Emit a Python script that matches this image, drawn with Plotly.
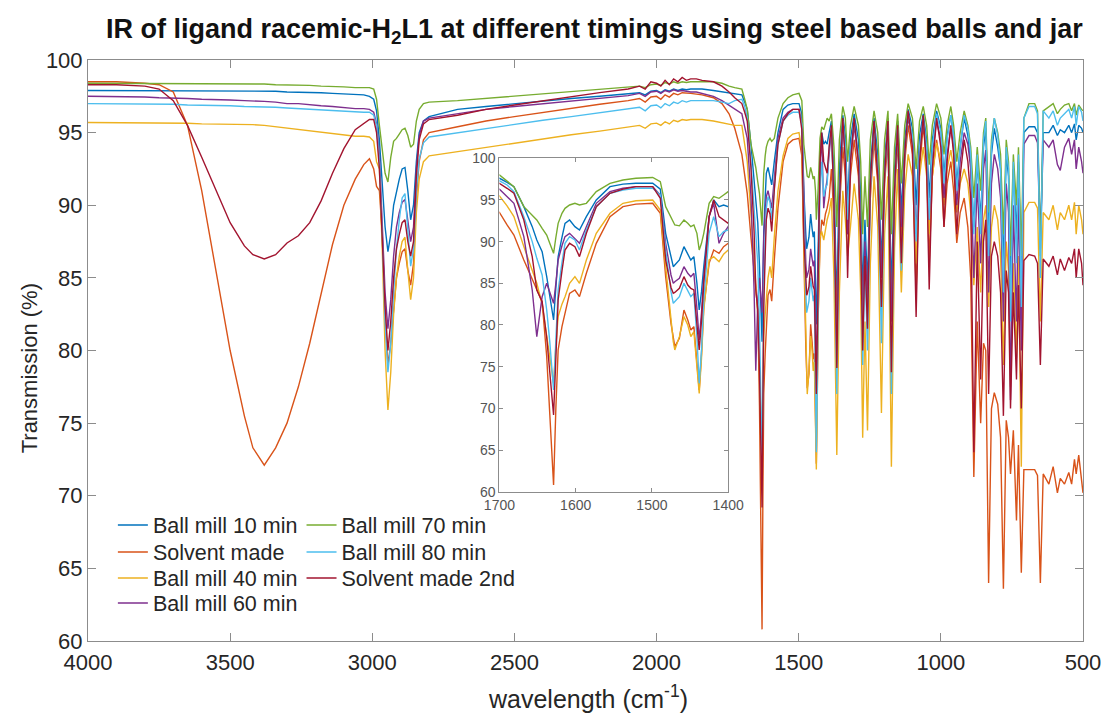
import plotly.graph_objects as go

# ---------------- data (wavenumber grid, cm^-1) ----------------
WAVENUMBER = [
    4000, 3900, 3800, 3750, 3700, 3650, 3600, 3550, 3500, 3450, 3420, 3380, 3340, 3300, 3260, 3220, 3180, 3140, 3100, 3060,
    3030, 3010, 2995, 2985, 2975, 2965, 2955, 2945, 2935, 2925, 2915, 2905, 2895, 2885, 2875, 2865, 2855, 2845, 2835, 2820, 2800,
    2700, 2600, 2500, 2400, 2300, 2200, 2100, 2060, 2040, 2020, 2000, 1985, 1970, 1955, 1940, 1925, 1910, 1895, 1880, 1860, 1840, 1800, 1770, 1745, 1725,
    1700, 1690, 1681, 1668, 1657, 1651, 1644, 1638, 1634, 1629,
    1626, 1623, 1618, 1614, 1608, 1601, 1595, 1586, 1573, 1555,
    1538, 1521, 1499, 1489, 1482, 1475, 1472, 1470, 1464, 1458,
    1453, 1449, 1445, 1441, 1438, 1435, 1432, 1425, 1419, 1412,
    1406, 1400,
    1393, 1385, 1376, 1366, 1357, 1345, 1336, 1328, 1318, 1305,
    1290, 1282, 1275, 1267, 1258, 1248, 1235, 1222, 1209, 1198,
    1186, 1174, 1163, 1152, 1139, 1127, 1115, 1100, 1087, 1075,
    1062, 1050, 1041, 1030, 1015, 1000, 989, 978, 965, 955,
    944, 932, 918, 905, 895, 884, 872, 860, 850, 842,
    832, 822, 812, 800, 790, 780, 770, 762, 755, 745,
    734, 727, 717, 708, 690, 670, 660, 650, 640, 620,
    605, 590, 580, 565, 550, 540, 530, 524, 515, 505, 500,
]

BALL_MILL_10 = [
    97.9, 97.9, 97.9, 97.9, 97.9, 97.9, 97.9, 97.9, 97.9, 97.9, 97.9, 97.9, 97.85, 97.8, 97.8, 97.8, 97.75, 97.7, 97.65, 97.6,
    97.6, 97.5, 97.3, 96.5, 94.5, 91.5, 88.5, 86.8, 88.0, 90.0, 91.0, 91.8, 92.5, 92.6, 91.0, 89.0, 90.0, 93.0, 95.0, 95.8, 96.1,
    96.6, 96.8, 97.0, 97.2, 97.35, 97.5, 97.65, 97.75, 97.6, 97.85, 97.9, 97.75, 97.95, 97.85, 98.0, 97.9, 98.0, 97.95, 98.0, 98.0, 98.0, 97.9, 97.8, 97.7, 97.65,
    97.6, 97.1, 96.6, 94.2, 91.8, 90.2, 88.8, 85.8, 83.5, 80.6,
    84.5, 88.2, 90.5, 92.2, 92.6, 91.8, 91.4, 93.0, 95.0, 96.6,
    96.9, 97.0, 97.0, 96.3, 91.0, 88.0, 87.0, 87.2, 87.8, 89.4,
    88.4, 87.8, 88.2, 85.0, 81.8, 84.0, 87.0, 93.0, 95.0, 94.2,
    94.4, 94.2,
    95.0, 95.8, 92.0, 83.0, 92.5, 96.2, 94.8, 90.0, 94.5, 96.3,
    94.5, 90.5, 84.0, 89.0, 84.5, 92.5, 96.0, 93.5, 86.0, 93.0,
    96.0, 84.0, 92.5, 95.8, 89.5, 94.5, 96.6, 95.3, 90.0, 94.8,
    96.3, 94.5, 90.5, 94.5, 96.5, 95.3, 92.0, 94.8, 96.2, 94.8,
    91.5, 94.0, 96.0, 94.8, 93.0, 88.5, 93.0, 89.0, 94.0, 95.3,
    88.0, 93.5, 95.3, 94.0, 92.5, 86.0, 93.5, 92.0, 85.0, 92.5,
    88.0, 93.0, 85.0, 95.0, 95.4, 95.4, 95.0, 87.5, 95.0, 95.0,
    95.5, 94.8, 95.2, 95.0, 95.5, 95.0, 95.6, 94.5, 95.5, 95.3, 95.0,
]

SOLVENT_MADE = [
    98.5, 98.5, 98.4, 98.3, 97.8, 95.5, 91.0, 85.5, 80.0, 75.5, 73.3, 72.1, 73.3, 75.0, 77.5, 80.5, 84.0, 87.3, 90.0, 91.8,
    92.8, 93.2, 92.5, 91.3, 91.0, 88.0, 82.5, 79.0, 80.5, 83.0, 85.0, 86.0, 86.8, 87.0, 85.5, 84.5, 86.0, 90.5, 93.0, 94.5, 95.0,
    95.4, 95.8, 96.1, 96.4, 96.7, 96.95, 97.2, 97.35, 97.1, 97.45, 97.5, 97.3, 97.6, 97.45, 97.7, 97.6, 97.75, 97.7, 97.7, 97.65, 97.6, 97.4, 97.0, 96.3, 95.3,
    93.5, 92.0, 90.8, 87.8, 85.5, 84.3, 82.8, 76.2, 69.0, 60.8,
    70.0, 77.0, 79.8, 81.4, 83.8, 84.2, 83.4, 86.2, 89.8, 93.0,
    94.2, 94.5, 94.6, 93.4, 85.8, 80.2, 78.5, 77.4, 78.4, 81.8,
    80.6, 79.4, 79.8, 75.5, 72.2, 76.5, 82.2, 87.4, 89.0, 88.6,
    89.4, 89.8,
    90.5, 92.5, 89.0, 82.0, 89.5, 94.0, 92.0, 88.0, 92.0, 94.5,
    92.0, 87.5, 82.0, 87.0, 83.0, 90.5, 94.5, 91.5, 85.0, 91.5,
    94.5, 82.0, 90.5, 94.5, 87.5, 93.0, 95.5, 93.5, 84.0, 92.5,
    95.5, 93.0, 86.0, 92.0, 94.5, 92.5, 88.5, 91.5, 93.0, 91.0,
    87.4, 89.5, 90.5, 88.5, 85.0, 71.3, 82.0, 75.0, 80.5, 80.0,
    64.0, 76.0, 77.1, 76.3, 74.0, 63.6, 75.2, 74.0, 71.5, 74.5,
    68.3, 73.5, 64.7, 71.8, 71.8, 71.8, 71.4, 64.0, 71.5, 70.8,
    72.0, 70.2, 71.2, 70.8, 71.6, 70.8, 72.5, 71.5, 72.8, 71.0, 70.2,
]

BALL_MILL_40 = [
    95.7, 95.7, 95.7, 95.7, 95.7, 95.65, 95.6, 95.6, 95.6, 95.6, 95.55, 95.5, 95.4, 95.3, 95.2, 95.1, 95.0, 94.9, 94.8, 94.75,
    94.75, 94.7, 94.4, 93.0, 92.5, 87.0, 80.0, 75.9, 78.5, 82.5, 85.0, 86.5, 87.5, 87.8, 85.5, 83.5, 85.0, 89.5, 91.8, 93.0, 93.4,
    93.7, 94.0, 94.3, 94.6, 94.85, 95.1, 95.35, 95.5, 95.3, 95.6, 95.65, 95.5, 95.75, 95.6, 95.85, 95.75, 95.9, 95.85, 95.9, 95.9, 95.9, 95.8, 95.7, 95.6, 95.5,
    95.5, 94.3, 93.0, 89.4, 86.5, 85.0, 82.5, 78.6, 76.0, 73.0,
    77.5, 81.0, 82.5, 83.4, 85.0, 85.8, 85.0, 87.8, 91.0, 93.4,
    94.6, 94.9, 95.0, 93.8, 87.0, 80.5, 78.0, 77.0, 78.6, 81.0,
    80.0, 78.6, 79.2, 75.0, 71.8, 76.0, 81.8, 87.8, 88.2, 87.6,
    88.5, 89.0,
    89.5, 90.5, 85.0, 72.8, 84.0, 91.0, 89.0, 86.5, 88.5, 91.5,
    89.0, 84.0, 74.0, 82.0, 74.5, 86.0, 92.0, 88.5, 75.7, 88.0,
    92.0, 72.0, 87.0, 92.5, 84.0, 91.0, 93.5, 92.0, 86.0, 92.0,
    94.0, 92.0, 88.0, 92.0, 94.3, 93.0, 90.0, 92.5, 93.8, 92.5,
    89.5, 91.5, 92.5, 91.5, 89.5, 84.5, 88.5, 84.0, 89.0, 90.0,
    83.0, 88.5, 90.0, 89.0, 86.5, 79.0, 87.5, 85.5, 77.5, 86.0,
    79.5, 86.5, 72.0, 89.5, 90.2, 90.2, 89.8, 82.0, 89.5, 89.0,
    90.0, 88.3, 89.5, 89.0, 90.0, 89.0, 90.2, 88.0, 90.0, 89.0, 88.0,
]

BALL_MILL_60 = [
    97.5, 97.5, 97.45, 97.4, 97.4, 97.35, 97.3, 97.3, 97.25, 97.2, 97.2, 97.15, 97.1, 97.0, 97.0, 96.9, 96.85, 96.8, 96.7, 96.65,
    96.65, 96.6, 96.4, 95.6, 93.5, 89.0, 84.0, 81.5, 83.5, 86.5, 88.5, 89.5, 90.2, 90.4, 89.0, 87.5, 88.5, 92.5, 94.8, 95.8, 96.0,
    96.3, 96.6, 96.8, 97.0, 97.2, 97.4, 97.55, 97.7, 97.5, 97.8, 97.85, 97.7, 97.9, 97.8, 97.95, 97.85, 97.9, 97.85, 97.8, 97.8, 97.7, 97.5, 97.2, 96.9, 96.6,
    96.3, 95.4, 94.6, 90.6, 84.2, 78.6, 83.4, 85.0, 84.0, 82.6,
    85.0, 87.8, 89.5, 90.6, 91.0, 90.4, 89.8, 91.8, 94.6, 96.0,
    96.4, 96.6, 96.6, 95.6, 89.8, 86.0, 85.0, 85.2, 85.6, 87.0,
    86.2, 85.8, 86.2, 82.0, 78.2, 81.5, 85.8, 93.0, 94.6, 89.8,
    91.0, 91.8,
    93.5, 95.2, 90.5, 80.0, 90.5, 95.5, 93.5, 88.0, 93.0, 95.5,
    93.0, 88.5, 82.0, 87.5, 83.0, 91.5, 95.3, 92.5, 85.0, 92.5,
    95.5, 82.0, 91.5, 95.2, 88.5, 94.0, 96.0, 94.5, 88.0, 94.0,
    95.8, 93.5, 89.0, 93.5, 95.8, 94.5, 90.5, 93.5, 95.3, 94.0,
    90.0, 93.0, 95.0, 94.2, 92.5, 85.0, 91.5, 86.0, 92.5, 93.8,
    84.0, 91.5, 93.5, 92.5, 90.5, 82.0, 91.5, 89.5, 76.6, 90.0,
    82.0, 90.5, 80.0, 94.2, 94.8, 94.8, 94.3, 87.0, 94.5, 94.0,
    94.5, 92.8, 92.4, 94.0, 94.6, 93.5, 94.5, 92.5, 94.0, 93.0, 92.2,
]

BALL_MILL_70 = [
    98.4, 98.4, 98.4, 98.4, 98.4, 98.4, 98.4, 98.4, 98.4, 98.4, 98.4, 98.35, 98.3, 98.3, 98.3, 98.25, 98.2, 98.2, 98.15, 98.1,
    98.1, 98.1, 98.0, 97.3, 95.5, 93.8, 92.2, 91.6, 93.3, 94.4, 94.6, 94.9, 95.2, 95.3, 94.8, 94.0, 94.2, 95.8, 96.6, 97.0, 97.1,
    97.2, 97.35, 97.5, 97.65, 97.8, 97.95, 98.1, 98.2, 98.1, 98.3, 98.35, 98.25, 98.45, 98.35, 98.5, 98.4, 98.5, 98.45, 98.5, 98.5, 98.5, 98.5, 98.4, 98.2, 98.1,
    98.0, 97.3, 96.6, 94.2, 93.2, 92.6, 91.6, 90.8, 89.8, 88.6,
    90.5, 92.2, 93.4, 94.0, 94.4, 94.6, 94.4, 94.6, 96.0, 97.0,
    97.4, 97.6, 97.7, 97.2, 94.2, 92.8, 92.4, 92.0, 91.9, 92.6,
    92.2, 91.8, 92.0, 91.0, 89.0, 89.8, 91.0, 94.6, 95.4, 95.2,
    95.6, 96.0,
    95.8, 96.3, 94.0, 88.5, 94.5, 96.8, 96.0, 93.0, 95.5, 96.8,
    95.5, 93.0, 88.0, 92.0, 88.5, 94.5, 96.5, 95.0, 89.0, 94.5,
    96.5, 88.0, 94.0, 96.3, 91.5, 95.5, 97.0, 96.0, 92.5, 95.8,
    96.8, 95.5, 92.8, 95.5, 97.0, 96.0, 93.5, 95.5, 96.8, 95.5,
    93.0, 95.0, 96.5, 95.5, 94.0, 90.5, 94.0, 91.0, 95.0, 96.0,
    89.5, 94.5, 96.0, 95.0, 93.5, 88.0, 94.5, 93.0, 86.5, 93.5,
    90.0, 94.0, 86.5, 96.0, 97.0, 97.0, 96.5, 86.5, 96.5, 96.8,
    97.0, 96.3, 96.6, 96.9, 97.0, 96.5, 97.0, 96.2, 96.9, 96.6, 96.5,
]

BALL_MILL_80 = [
    97.0, 97.0, 97.0, 97.0, 96.95, 96.9, 96.9, 96.9, 96.85, 96.8, 96.8, 96.8, 96.75, 96.7, 96.65, 96.6, 96.55, 96.5, 96.45, 96.4,
    96.4, 96.4, 96.2, 95.5, 93.0, 88.0, 82.0, 78.5, 80.5, 84.0, 87.0, 89.0, 90.5, 90.8, 88.0, 85.8, 87.0, 91.0, 93.2, 94.3, 94.7,
    95.0, 95.3, 95.6, 95.85, 96.1, 96.35, 96.6, 96.75, 96.5, 96.85, 96.9, 96.7, 97.0, 96.85, 97.1, 97.0, 97.2, 97.1, 97.2, 97.2, 97.2, 97.2, 97.1, 97.0, 97.2,
    97.3, 96.8, 96.0, 93.0, 90.0, 88.0, 86.0, 81.8, 78.0, 72.2,
    78.0, 84.2, 87.5, 89.8, 90.6, 90.2, 89.0, 91.4, 94.2, 95.8,
    96.2, 96.4, 96.4, 95.6, 89.0, 84.0, 82.6, 82.8, 83.4, 85.0,
    84.2, 83.4, 83.8, 78.5, 73.0, 77.0, 83.0, 91.0, 93.0, 90.6,
    91.2, 91.4,
    94.0, 95.3, 90.0, 77.0, 90.0, 95.8, 94.0, 89.0, 93.8, 95.8,
    93.5, 88.0, 79.0, 86.0, 80.0, 91.0, 95.5, 92.5, 80.5, 92.0,
    95.5, 77.0, 91.0, 95.3, 85.5, 93.5, 96.3, 94.8, 87.5, 94.0,
    96.0, 94.0, 89.0, 94.0, 96.3, 95.0, 91.5, 94.5, 96.2, 94.8,
    91.0, 94.0, 96.2, 95.3, 93.5, 88.0, 93.5, 88.0, 94.5, 95.8,
    86.5, 94.0, 96.0, 94.8, 92.5, 84.0, 94.0, 92.5, 82.0, 93.0,
    86.0, 93.5, 83.0, 96.0, 96.8, 96.8, 96.3, 85.0, 96.5, 96.0,
    96.5, 95.5, 96.0, 96.3, 96.6, 96.0, 96.8, 95.5, 96.8, 96.4, 95.8,
]

SOLVENT_MADE_2ND = [
    98.3, 98.3, 98.2, 98.0, 97.2, 95.5, 93.3, 91.0, 88.8, 87.2, 86.6, 86.3, 86.6, 87.4, 87.9, 88.8, 90.3, 92.2, 93.9, 95.2,
    95.6, 95.9, 95.9, 95.0, 92.5, 88.0, 83.0, 80.0, 82.0, 85.0, 87.0, 88.0, 88.8, 89.0, 87.5, 86.5, 87.5, 92.0, 94.5, 95.6, 95.9,
    96.2, 96.6, 96.9, 97.2, 97.5, 97.75, 98.0, 98.2, 98.0, 98.5, 98.4, 98.2, 98.6, 98.3, 98.7, 98.5, 98.8, 98.6, 98.7, 98.7, 98.6, 98.5, 98.2, 97.8, 97.4,
    97.0, 96.4, 95.8, 92.6, 88.2, 84.2, 82.8, 78.5, 74.5, 69.2,
    76.0, 83.0, 86.5, 89.0, 89.8, 89.4, 88.2, 91.0, 94.2, 95.8,
    96.3, 96.6, 96.6, 95.2, 87.8, 84.5, 83.8, 83.9, 84.4, 85.8,
    84.8, 84.4, 84.2, 80.5, 77.0, 80.5, 85.0, 93.0, 95.0, 93.0,
    92.6, 92.2,
    94.0, 95.5, 90.0, 78.8, 90.0, 96.0, 93.0, 85.0, 93.0, 96.0,
    93.0, 87.5, 80.0, 86.5, 81.5, 91.5, 95.8, 92.0, 83.0, 92.0,
    95.8, 78.5, 91.0, 95.5, 86.0, 93.5, 96.5, 94.0, 82.3, 93.0,
    96.2, 92.5, 84.2, 92.5, 96.0, 94.0, 88.5, 93.0, 95.5, 93.5,
    88.0, 92.0, 94.5, 93.0, 90.5, 73.0, 87.5, 78.0, 87.5, 89.0,
    77.0, 86.5, 87.5, 86.5, 84.0, 75.5, 85.5, 84.0, 76.0, 84.0,
    78.0, 84.5, 76.0, 86.2, 86.6, 86.5, 86.0, 79.0, 86.3, 85.8,
    86.5, 85.2, 86.3, 85.5, 86.4, 86.0, 87.0, 85.0, 87.0, 86.0, 84.5,
]

SERIES_NAMES = ["Ball mill 10 min", "Solvent made", "Ball mill 40 min", "Ball mill 60 min",
                "Ball mill 70 min", "Ball mill 80 min", "Solvent made 2nd"]
SERIES_VALUES = [BALL_MILL_10, SOLVENT_MADE, BALL_MILL_40, BALL_MILL_60,
                 BALL_MILL_70, BALL_MILL_80, SOLVENT_MADE_2ND]
COLORS = ["#0072BD", "#D95319", "#EDB120", "#7E2F8E", "#77AC30", "#4DBEEE", "#A2142F"]

X_TICKS = [4000, 3500, 3000, 2500, 2000, 1500, 1000, 500]
Y_TICKS = [60, 65, 70, 75, 80, 85, 90, 95, 100]
INSET_X_TICKS = [1700, 1600, 1500, 1400]

# ---------------- figure ----------------
FONT = "Liberation Sans, Arial, Helvetica, sans-serif"
AXIS_COLOR = "#8c8c8c"
TEXT_COLOR = "#262626"

# legend slots: one small legend per entry (two columns: 4 + 3 rows)
LEGEND_IDS = ["legend", "legend2", "legend3", "legend4", "legend5", "legend6", "legend7"]
ROW_Y = [0.1997, 0.1532, 0.1084, 0.0654]
COL_X = [0.025, 0.2146]
LEGEND_POS = [(COL_X[0], ROW_Y[0]), (COL_X[0], ROW_Y[1]), (COL_X[0], ROW_Y[2]), (COL_X[0], ROW_Y[3]),
              (COL_X[1], ROW_Y[0]), (COL_X[1], ROW_Y[1]), (COL_X[1], ROW_Y[2])]

fig = go.Figure()
for name, vals, col, leg in zip(SERIES_NAMES, SERIES_VALUES, COLORS, LEGEND_IDS):
    fig.add_trace(go.Scatter(x=WAVENUMBER, y=vals, mode="lines", name=name,
                             line=dict(color=col, width=1.4), legend=leg))
for name, vals, col in zip(SERIES_NAMES, SERIES_VALUES, COLORS):
    fig.add_trace(go.Scatter(x=WAVENUMBER, y=vals, mode="lines", name=name,
                             line=dict(color=col, width=1.4), showlegend=False,
                             xaxis="x2", yaxis="y2"))

axis_common = dict(showgrid=False, zeroline=False, showline=True, linecolor=AXIS_COLOR,
                   linewidth=1, mirror="ticks", ticks="inside", tickcolor=AXIS_COLOR,
                   tickwidth=1)

legend_layout = {}
for leg, (lx, ly) in zip(LEGEND_IDS, LEGEND_POS):
    legend_layout[leg] = dict(x=lx, y=ly, xanchor="left", yanchor="middle",
                              bgcolor="rgba(0,0,0,0)", borderwidth=0,
                              font=dict(size=21.5, color=TEXT_COLOR, family=FONT))

fig.update_layout(
    width=1113, height=717,
    margin=dict(l=88, r=23, t=60, b=76),
    paper_bgcolor="white", plot_bgcolor="white",
    font=dict(family=FONT, color=TEXT_COLOR),
    title=dict(text="<b>IR of ligand racemic-H<sub>2</sub>L1 at different timings using steel based balls and jar</b>",
               x=0.534, xanchor="center", y=0.96, yanchor="middle",
               font=dict(size=27, family=FONT, color="#111111")),
    xaxis=dict(range=[4000, 500], tickvals=X_TICKS, ticklen=8, ticklabelstandoff=2,
               tickfont=dict(size=22, color=TEXT_COLOR), **axis_common),
    yaxis=dict(range=[60, 100], tickvals=Y_TICKS, ticklen=8,
               tickfont=dict(size=22, color=TEXT_COLOR), **axis_common),
    xaxis2=dict(domain=[0.4135, 0.6434], anchor="y2", range=[1700, 1400], tickvals=INSET_X_TICKS,
                ticklen=4, ticklabelstandoff=1,
                tickfont=dict(size=14, color="#555555"), **axis_common),
    yaxis2=dict(domain=[0.257, 0.8308], anchor="x2", range=[60, 100], tickvals=Y_TICKS,
                ticklen=4, tickfont=dict(size=14, color="#555555"), **axis_common),
    showlegend=True,
    annotations=[
        dict(text="wavelength (cm<sup>-1</sup>)", xref="paper", yref="paper", x=0.503, y=-0.0964,
             xanchor="center", yanchor="middle", showarrow=False,
             font=dict(size=25, color=TEXT_COLOR, family=FONT)),
        dict(text="Transmission (%)", xref="paper", yref="paper", x=-0.0579, y=0.47,
             xanchor="center", yanchor="middle", textangle=-90, showarrow=False,
             font=dict(size=22, color=TEXT_COLOR, family=FONT)),
    ],
    **legend_layout,
)

fig.write_html("out.html")
